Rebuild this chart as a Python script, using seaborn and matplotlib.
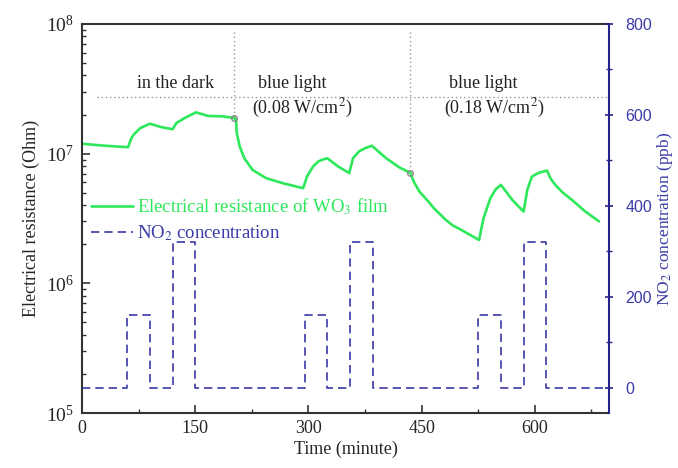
import numpy as np
import pandas as pd
import matplotlib
matplotlib.use('Agg')
import matplotlib.pyplot as plt
import seaborn as sns
from matplotlib.ticker import LogLocator, MultipleLocator, LogFormatterMathtext, NullFormatter

# ---- data ----
time_res = [0, 30, 61, 65, 68, 77, 90, 105, 120, 125, 136, 151, 167, 185, 202,
            204, 205, 209, 215, 226, 244, 266, 293, 298, 306, 313, 319, 325, 340, 354,
            359, 367, 375, 384, 403, 420, 435, 440, 447, 460, 466, 482, 491, 504, 526,
            532, 541, 548, 555, 570, 585, 590, 596, 605, 616, 621, 627, 637, 649, 667, 685]
resistance = [1.19e7, 1.15e7, 1.12e7, 1.30e7, 1.39e7, 1.57e7, 1.70e7, 1.60e7, 1.54e7,
              1.72e7, 1.88e7, 2.08e7, 1.95e7, 1.94e7, 1.88e7,
              1.82e7, 1.44e7, 1.13e7, 9.2e6, 7.48e6, 6.46e6, 5.91e6, 5.41e6, 6.65e6,
              7.94e6, 8.7e6, 9.0e6, 9.2e6, 7.9e6, 7.08e6,
              9.2e6, 1.04e7, 1.10e7, 1.15e7, 9.2e6, 7.85e6, 7.1e6, 6.0e6, 5.1e6, 4.2e6, 3.8e6,
              3.08e6, 2.8e6, 2.55e6, 2.16e6,
              3.18e6, 4.53e6, 5.3e6, 5.74e6, 4.4e6, 3.57e6, 5.25e6, 6.65e6, 7.1e6, 7.4e6,
              6.4e6, 5.74e6, 5.0e6, 4.4e6, 3.57e6, 3.0e6]

time_no2 = [0, 60, 90, 120, 150, 295, 325, 355, 385, 525, 555, 585, 615, 698]
no2_ppb = [0, 160, 0, 320, 0, 160, 0, 320, 0, 160, 0, 320, 0, 0]

switch_times = [202, 435]
switch_res = [1.88e7, 7.1e6]
divider_top = 8.7e7
divider_level = 2.75e7
divider_start = 20

labels_text = ['in the dark', 'blue light', '(0.08 W/cm$^{2}$)', 'blue light', '(0.18 W/cm$^{2}$)']
labels_x = [124, 278, 292, 531, 546]
labels_y = [3.44e7, 3.44e7, 2.21e7, 3.44e7, 2.21e7]

x_ticks = [0, 150, 300, 450, 600]
no2_ticks = [0, 200, 400, 600, 800]

green = '#2de85a'
navy = '#3a3aa8'
navy_axis = '#24248f'

sns.set_style('ticks')
plt.rcParams['font.family'] = ['Liberation Serif', 'DejaVu Serif']
plt.rcParams['mathtext.fontset'] = 'stix'

fig, ax = plt.subplots(figsize=(6.78, 4.68), dpi=100)
fig.subplots_adjust(left=0.121, right=0.898, top=0.949, bottom=0.1175)
ax2 = ax.twinx()

ax.set_yscale('log')
df_res = pd.DataFrame({'t': time_res, 'R': resistance})
sns.lineplot(data=df_res, x='t', y='R', ax=ax, color=green, lw=1.9, sort=False,
             estimator=None, label='Electrical resistance of WO$_3$ film')

df_no2 = pd.DataFrame({'t': time_no2, 'c': no2_ppb})
sns.lineplot(data=df_no2, x='t', y='c', ax=ax2, color=navy, lw=1.2, sort=False,
             estimator=None, drawstyle='steps-post', dashes=(5, 3),
             label='NO$_2$ concentration')

# dividers and markers
ax.plot([divider_start, 698], [divider_level, divider_level], ls=(0, (1, 2)), color='#999999', lw=1)
for st, sr in zip(switch_times, switch_res):
    ax.plot([st, st], [divider_top, sr], ls=(0, (1, 2)), color='#999999', lw=1)
ax.plot(switch_times, switch_res, 'o', mfc='none', mec='#888888', ms=4, mew=1)

for t, x, y in zip(labels_text, labels_x, labels_y):
    ax.text(x, y, t, ha='center', va='center', fontsize=13, color='#222222')

ax.set_xlim(0, 698)
ax.set_ylim(1e5, 1e8)
ax2.set_ylim(-55, 800)

ax.set_xticks(x_ticks)
ax.xaxis.set_minor_locator(MultipleLocator(75))
ax.yaxis.set_major_locator(LogLocator(base=10, numticks=10))
ax.yaxis.set_minor_locator(LogLocator(base=10, subs=np.arange(2, 10), numticks=20))
ax.yaxis.set_major_formatter(LogFormatterMathtext())
ax.yaxis.set_minor_formatter(NullFormatter())
ax.tick_params(axis='both', which='major', direction='in', length=6, width=1.2,
               labelsize=13, color='#333333', pad=6)
ax.tick_params(axis='y', which='major', labelsize=14)
ax.tick_params(axis='both', which='minor', direction='in', length=3, width=1, color='#333333')
ax.tick_params(axis='x', pad=5)

ax2.set_yticks(no2_ticks)
ax2.yaxis.set_minor_locator(MultipleLocator(100))
ax2.tick_params(axis='y', which='major', direction='inout', length=6, width=1.2,
                color=navy_axis, labelcolor=navy, labelsize=11.5, pad=9)
ax2.tick_params(axis='y', which='minor', direction='inout', length=4, width=1, color=navy_axis)
for lbl in ax2.get_yticklabels():
    lbl.set_family('Liberation Sans')

for s in ['left', 'bottom', 'top']:
    ax.spines[s].set_color('#333333')
    ax.spines[s].set_linewidth(1.5)
    ax2.spines[s].set_visible(False)
ax.spines['right'].set_visible(False)
ax2.spines['right'].set_color(navy_axis)
ax2.spines['right'].set_linewidth(1.5)

ax.set_xlabel('Time (minute)', fontsize=13, labelpad=3)
ax.set_ylabel('Electrical resistance (Ohm)', fontsize=13, labelpad=4)
ax2.set_ylabel('NO$_2$ concentration (ppb)', fontsize=12.5, color=navy, labelpad=2)

h1, l1 = ax.get_legend_handles_labels()
h2, l2 = ax2.get_legend_handles_labels()
if ax2.get_legend() is not None:
    ax2.get_legend().remove()
leg = ax.legend(h1 + h2, l1 + l2, loc='upper left', bbox_to_anchor=(0.0, 0.58),
                frameon=False, fontsize=13.5, handlelength=2.2, handletextpad=0.25,
                labelspacing=0.32, borderaxespad=0.1)
leg.get_texts()[0].set_color(green)
leg.get_texts()[1].set_color(navy)
ax2.set_zorder(ax.get_zorder() + 1)
ax2.patch.set_visible(False)

fig.savefig('out.png', dpi=100)
